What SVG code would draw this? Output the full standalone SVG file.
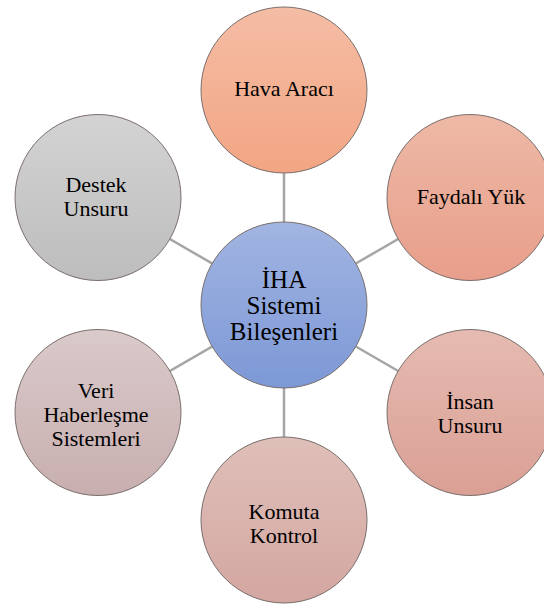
<svg xmlns="http://www.w3.org/2000/svg" width="544" height="605" viewBox="0 0 544 605">
<style>
.c{stroke:#7a6f6c;stroke-width:1}
.t{font-family:"Liberation Serif","Times New Roman",serif;font-size:22px;fill:#000;text-anchor:middle}
.tc{font-size:25px}
.ln{stroke:#a6a6a6;stroke-width:2.5;fill:none}
</style>
<defs>
<linearGradient id="gHava" x1="0" y1="0" x2="0" y2="1"><stop offset="0" stop-color="#f5bda5"/><stop offset="1" stop-color="#f2a583"/></linearGradient>
<linearGradient id="gFay" x1="0" y1="0" x2="0" y2="1"><stop offset="0" stop-color="#edb9a6"/><stop offset="1" stop-color="#e89e8a"/></linearGradient>
<linearGradient id="gIns" x1="0" y1="0" x2="0" y2="1"><stop offset="0" stop-color="#e6bbb1"/><stop offset="1" stop-color="#da9f95"/></linearGradient>
<linearGradient id="gKom" x1="0" y1="0" x2="0" y2="1"><stop offset="0" stop-color="#dfbfb9"/><stop offset="1" stop-color="#d4a7a1"/></linearGradient>
<linearGradient id="gVeri" x1="0" y1="0" x2="0" y2="1"><stop offset="0" stop-color="#dacaca"/><stop offset="1" stop-color="#c8aeaf"/></linearGradient>
<linearGradient id="gDes" x1="0" y1="0" x2="0" y2="1"><stop offset="0" stop-color="#d3d3d3"/><stop offset="1" stop-color="#bdbdbd"/></linearGradient>
<linearGradient id="gCen" x1="0" y1="0" x2="0" y2="1"><stop offset="0" stop-color="#a2b5e2"/><stop offset="1" stop-color="#7c98d6"/></linearGradient>
</defs>
<g id="connectors">
<line class="ln" x1="284" y1="305" x2="284" y2="90"/>
<line class="ln" x1="284" y1="305" x2="470" y2="197.5"/>
<line class="ln" x1="284" y1="305" x2="470" y2="412.5"/>
<line class="ln" x1="284" y1="305" x2="284" y2="520"/>
<line class="ln" x1="284" y1="305" x2="98" y2="412.5"/>
<line class="ln" x1="284" y1="305" x2="98" y2="197.5"/>
</g>
<g id="center">
<circle class="c" cx="284" cy="305" r="83" fill="url(#gCen)"/>
<text class="t tc" x="284" y="288">İHA</text>
<text class="t tc" x="284" y="314">Sistemi</text>
<text class="t tc" x="284" y="340">Bileşenleri</text>
</g>
<g id="hava-araci">
<circle class="c" cx="284" cy="90" r="83" fill="url(#gHava)"/>
<text class="t" x="284" y="96">Hava Aracı</text>
</g>
<g id="faydali-yuk">
<circle class="c" cx="470" cy="197.5" r="83" fill="url(#gFay)"/>
<text class="t" x="471" y="204">Faydalı Yük</text>
</g>
<g id="insan-unsuru">
<circle class="c" cx="470" cy="412.5" r="83" fill="url(#gIns)"/>
<text class="t" x="470" y="409">İnsan</text>
<text class="t" x="470" y="433">Unsuru</text>
</g>
<g id="komuta-kontrol">
<circle class="c" cx="284" cy="520" r="83" fill="url(#gKom)"/>
<text class="t" x="284" y="519">Komuta</text>
<text class="t" x="284" y="543">Kontrol</text>
</g>
<g id="veri-haberlesme">
<circle class="c" cx="98" cy="412.5" r="83" fill="url(#gVeri)"/>
<text class="t" x="96" y="398">Veri</text>
<text class="t" x="96" y="422">Haberleşme</text>
<text class="t" x="96" y="446">Sistemleri</text>
</g>
<g id="destek-unsuru">
<circle class="c" cx="98" cy="197.5" r="83" fill="url(#gDes)"/>
<text class="t" x="96" y="192">Destek</text>
<text class="t" x="96" y="216">Unsuru</text>
</g>
</svg>
